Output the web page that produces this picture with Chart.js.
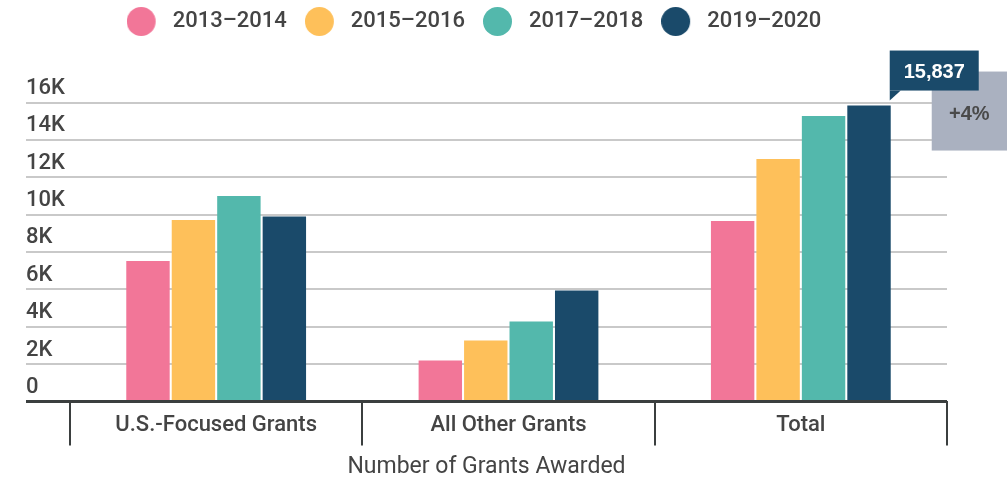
<!DOCTYPE html>
<html>
<head>
<meta charset="utf-8">
<script src="https://cdn.jsdelivr.net/npm/chart.js@4"></script>
<style>
  html, body { margin: 0; padding: 0; background: #fff; }
  #wrap { width: 1007px; height: 481px; position: relative; }
</style>
</head>
<body>
<div id="wrap"><canvas id="grants"></canvas></div>
<script>
// data
const categories = ['U.S.-Focused Grants', 'All Other Grants', 'Total'];
const periods = ['2013–2014', '2015–2016', '2017–2018', '2019–2020'];
const grants1314 = [7510, 2190, 9660];
const grants1516 = [9710, 3260, 12970];
const grants1718 = [10990, 4280, 15280];
const grants1920 = [9900, 5940, 15837];
const yTicks = [0, 2000, 4000, 6000, 8000, 10000, 12000, 14000, 16000];
const calloutValue = '15,837';
const calloutChange = '+4%';

const colors = ['#f27698', '#fec05a', '#53b8ac', '#1a4a6a'];
const textColor = '#444';
const axisDark = '#3b3f3f';

// legend dot: 29px circle with a little room after it
function makeDot(color) {
  const c = document.createElement('canvas');
  c.width = 35;
  c.height = 29;
  const g = c.getContext('2d');
  g.fillStyle = color;
  g.beginPath();
  g.arc(14.5, 14.5, 14.5, 0, Math.PI * 2);
  g.fill();
  return c;
}
const dots = colors.map(makeDot);

// callout box for the last bar of the last series
const calloutPlugin = {
  id: 'callout',
  afterDatasetsDraw(chart) {
    const bar = chart.getDatasetMeta(3).data[2];
    if (!bar) return;
    const ctx = chart.ctx;
    const tipX = bar.x + bar.width / 2 - 1;
    const tipY = bar.y - 5;
    const boxTop = tipY - 50;
    ctx.save();
    // grey change box
    ctx.fillStyle = '#aab1c0';
    ctx.fillRect(tipX + 42, tipY - 29, chart.width - (tipX + 42), 79);
    ctx.fillStyle = '#4a4a4a';
    ctx.font = 'bold 20px "Liberation Sans", Arial, sans-serif';
    ctx.textAlign = 'center';
    ctx.textBaseline = 'middle';
    ctx.fillText(calloutChange, (tipX + 42 + chart.width) / 2, tipY + 14);
    // value box with pointer
    ctx.fillStyle = '#1a4a6a';
    ctx.fillRect(tipX, boxTop, 89, 40);
    ctx.beginPath();
    ctx.moveTo(tipX, boxTop + 40);
    ctx.lineTo(tipX + 11, boxTop + 40);
    ctx.lineTo(tipX, tipY);
    ctx.closePath();
    ctx.fill();
    ctx.fillStyle = '#fff';
    ctx.fillText(calloutValue, tipX + 44.5, boxTop + 22);
    ctx.restore();
  }
};

// legend needs a taller box than its row, and sits a bit left of centre
const legendSpace = {
  id: 'legendSpace',
  beforeInit(chart) {
    const fit = chart.legend.fit;
    chart.legend.fit = function () {
      fit.bind(chart.legend)();
      this.height = 110;
    };
  },
  afterLayout(chart) {
    chart.legend.left -= 12.5;
    chart.legend.right -= 12.5;
  }
};

const ctx = document.getElementById('grants').getContext('2d');

const data = {
  labels: categories,
  datasets: [
    { label: periods[0], data: grants1314, backgroundColor: colors[0] },
    { label: periods[1], data: grants1516, backgroundColor: colors[1] },
    { label: periods[2], data: grants1718, backgroundColor: colors[2] },
    { label: periods[3], data: grants1920, backgroundColor: colors[3] },
  ]
};

const config = {
  type: 'bar',
  data: data,
  plugins: [calloutPlugin, legendSpace],
  options: {
    responsive: true,
    maintainAspectRatio: false,
    animation: false,
    datasets: {
      bar: {
        categoryPercentage: 0.622,
        barPercentage: 0.955,
        borderWidth: 0
      }
    },
    layout: {
      padding: { top: -7.5, left: 26, right: 60, bottom: 0 }
    },
    plugins: {
      legend: {
        position: 'top',
        labels: {
          usePointStyle: true,
          boxHeight: 22,
          pointStyleWidth: 35,
          padding: 18,
          color: textColor,
          font: { family: 'Roboto', size: 22, weight: '500' },
          generateLabels(chart) {
            const items = Chart.defaults.plugins.legend.labels.generateLabels(chart);
            items.forEach((it, i) => { it.pointStyle = dots[i]; });
            return items;
          }
        }
      },
      title: {
        display: true,
        position: 'bottom',
        text: 'Number of Grants Awarded',
        color: textColor,
        padding: { top: 0, bottom: 0 },
        font: { family: 'Roboto', size: 23, weight: 'normal' }
      },
      tooltip: { enabled: false }
    },
    scales: {
      x: {
        border: { display: false },
        grid: {
          display: true,
          offset: true,
          drawOnChartArea: false,
          drawTicks: true,
          tickLength: 44,
          color: axisDark,
          lineWidth: 2
        },
        ticks: {
          padding: -33,
          color: textColor,
          font: { family: 'Roboto', size: 22, weight: '500' }
        },
        afterFit(scale) { scale.height = 52; }
      },
      y: {
        min: 0,
        max: 16000,
        border: { display: false },
        afterBuildTicks(scale) { scale.ticks = yTicks.map(v => ({ value: v })); },
        grid: {
          tickLength: 44,
          color: (c) => (c.tick && c.tick.value === 0 ? axisDark : '#c9c9c9'),
          lineWidth: (c) => (c.tick && c.tick.value === 0 ? 3 : 2)
        },
        ticks: {
          crossAlign: 'far',
          labelOffset: -14,
          color: textColor,
          font: { family: 'Roboto', size: 22, weight: '500' },
          callback: (v) => (v === 0 ? '0' : v / 1000 + 'K')
        },
        afterFit(scale) { scale.width = 44; }
      }
    }
  }
};

const grantsChart = new Chart(ctx, config);
</script>
</body>
</html>
